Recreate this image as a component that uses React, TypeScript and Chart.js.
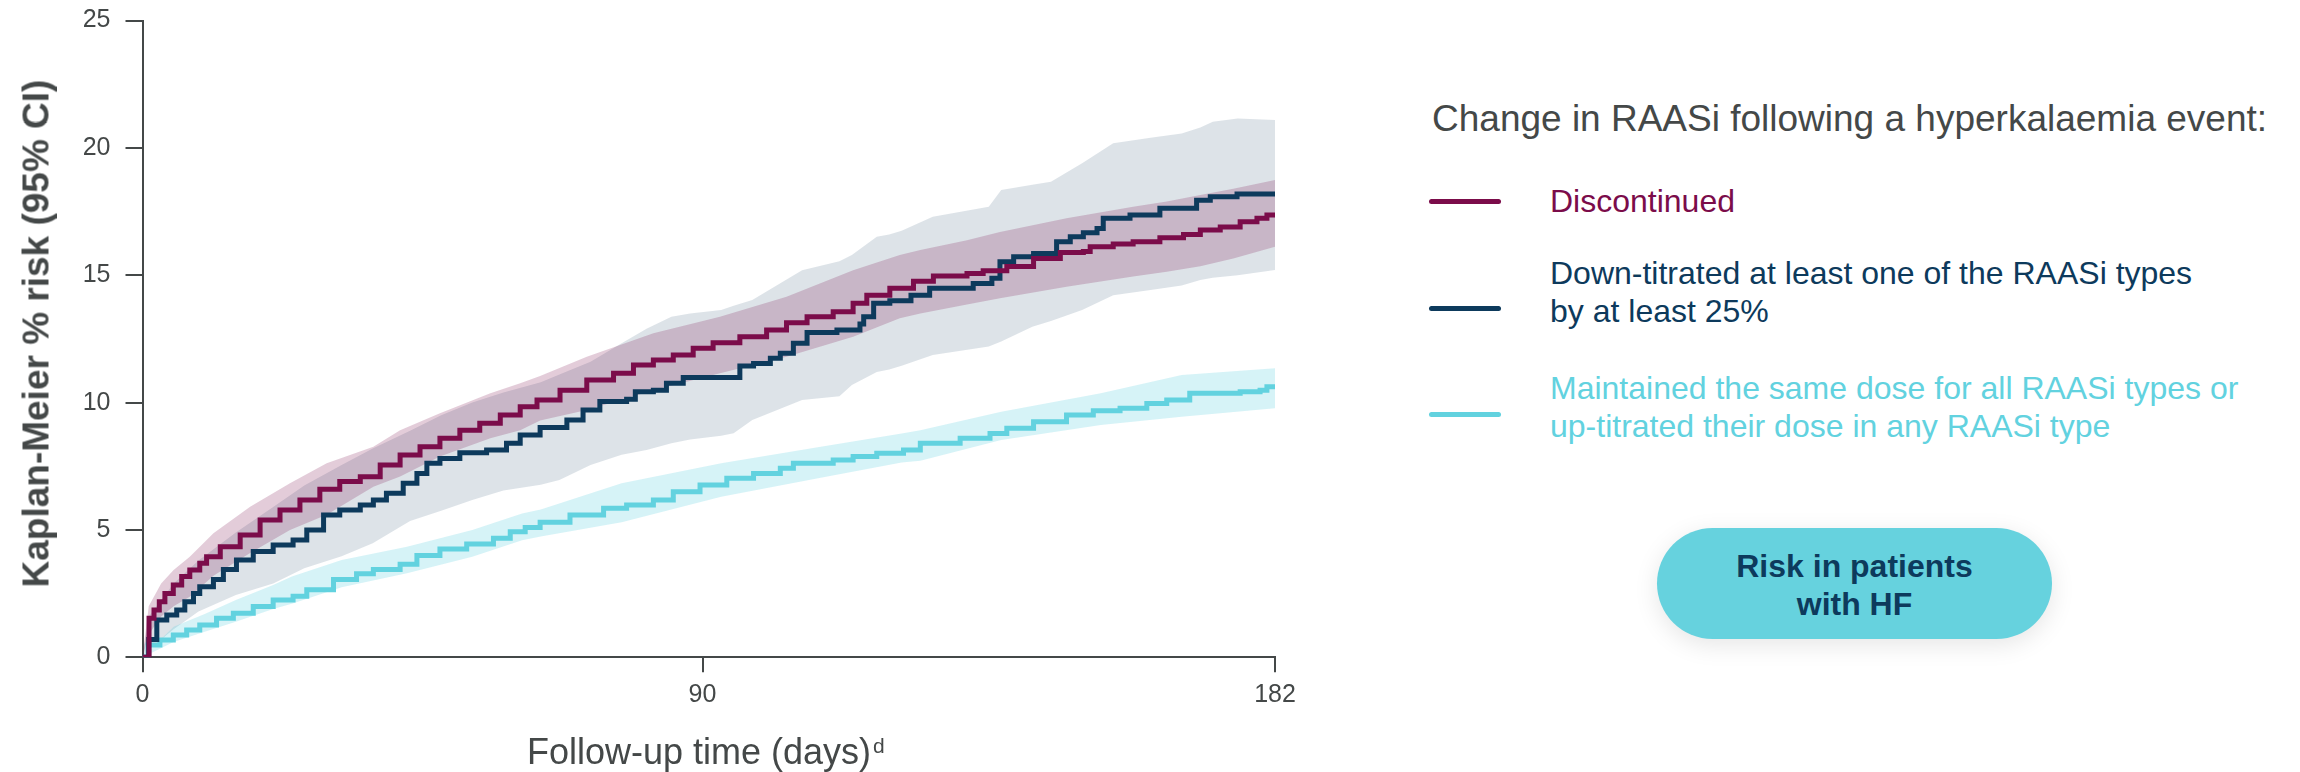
import React, { useEffect, useRef } from "react";
import { Chart, registerables } from "chart.js";

Chart.register(...registerables);

// ---------- DATA ----------
const xTicks = [0, 90, 182];
const yMax = 25;
const yStep = 5;

// Discontinued
const discDays = [0, 1.05, 1.85, 2.7, 3.6, 4.95, 6.3, 7.6, 9.2, 10.3, 12.5, 15.7, 18.9, 22.1, 25.3, 28.5, 31.7, 35.0, 38.2, 41.4, 44.6, 47.8, 51.0, 54.2, 57.5, 60.7, 63.4, 67.1, 71.4, 75.7, 78.9, 82.1, 85.3, 88.5, 91.7, 96.0, 100.3, 103.5, 106.8, 111.0, 114.2, 116.4, 120.1, 123.9, 127.1, 132.5, 135.1, 138.9, 143.2, 147.5, 151.2, 152.3, 156.0, 159.2, 163.5, 167.3, 170.0, 173.2, 176.4, 179.1, 180.7, 182];
const discRisk = [0, 1.53, 1.86, 2.18, 2.51, 2.84, 3.17, 3.43, 3.69, 3.95, 4.34, 4.8, 5.39, 5.78, 6.18, 6.6, 6.9, 7.09, 7.55, 7.94, 8.27, 8.6, 8.92, 9.19, 9.51, 9.84, 10.1, 10.49, 10.89, 11.15, 11.48, 11.67, 11.87, 12.13, 12.35, 12.59, 12.85, 13.14, 13.37, 13.57, 13.9, 14.22, 14.49, 14.77, 14.97, 15.07, 15.18, 15.34, 15.66, 15.89, 15.93, 16.12, 16.23, 16.32, 16.47, 16.6, 16.78, 16.9, 17.1, 17.24, 17.37, 17.4];

// Down-titrated
const downDays = [0, 1.0, 2.3, 3.9, 5.5, 6.8, 8.2, 9.2, 11.4, 13.0, 15.1, 17.8, 21.0, 24.2, 26.4, 29.1, 31.7, 35.0, 37.1, 39.2, 41.9, 44.1, 45.7, 47.8, 51.0, 55.3, 58.5, 60.7, 63.9, 68.2, 70.8, 73.5, 77.8, 79.2, 82.1, 84.2, 86.9, 94.4, 96.0, 98.2, 100.9, 102.5, 104.6, 106.8, 111.6, 115.3, 115.9, 117.5, 120.1, 123.5, 126.5, 133.5, 136.5, 137.8, 140.0, 143.2, 146.9, 149.1, 151.2, 153.4, 154.4, 158.7, 163.5, 169.4, 171.6, 175.9, 182];
const downRisk = [0, 0.7, 1.46, 1.66, 1.86, 2.18, 2.51, 2.77, 3.05, 3.45, 3.82, 4.15, 4.41, 4.61, 5.0, 5.59, 5.78, 5.98, 6.18, 6.44, 6.83, 7.22, 7.62, 7.81, 8.03, 8.14, 8.4, 8.73, 9.02, 9.32, 9.71, 10.04, 10.13, 10.43, 10.49, 10.76, 10.99, 10.99, 11.44, 11.54, 11.74, 11.94, 12.33, 12.75, 12.85, 13.09, 13.37, 13.9, 14.0, 14.22, 14.49, 14.68, 14.88, 15.53, 15.73, 15.86, 16.32, 16.51, 16.67, 16.84, 17.24, 17.37, 17.63, 17.95, 18.08, 18.19, 18.19];

// Maintained / up-titrated
const maintDays = [0, 0.9, 2.8, 4.95, 7.1, 9.2, 11.9, 14.6, 17.8, 21.0, 24.2, 26.4, 30.7, 34.4, 37.1, 41.4, 44.1, 47.8, 52.1, 56.4, 59.1, 61.5, 63.9, 68.7, 74.1, 77.8, 82.1, 85.3, 89.6, 93.9, 98.2, 102.5, 104.6, 111.0, 114.2, 118.0, 122.3, 125.0, 131.4, 136.2, 138.9, 143.2, 148.5, 152.8, 157.1, 161.4, 164.6, 168.3, 176.4, 179.6, 180.7, 182];
const maintRisk = [0, 0.48, 0.68, 0.88, 1.07, 1.27, 1.53, 1.73, 1.99, 2.25, 2.4, 2.65, 3.05, 3.28, 3.45, 3.65, 4.0, 4.25, 4.45, 4.67, 4.93, 5.1, 5.3, 5.59, 5.85, 5.98, 6.18, 6.5, 6.77, 7.03, 7.22, 7.42, 7.62, 7.75, 7.88, 8.01, 8.14, 8.4, 8.6, 8.79, 8.99, 9.25, 9.51, 9.68, 9.78, 9.97, 10.1, 10.37, 10.43, 10.49, 10.62, 10.68];

// 95% CI bands
const discBandDays = [0, 1, 3, 5, 7.6, 11.4, 17.3, 23.7, 29.6, 37.1, 41.4, 47.8, 55.9, 60.7, 63.9, 71.4, 82.1, 92.8, 103.5, 114.2, 121.7, 125, 132.5, 137.8, 148.5, 159.2, 164.6, 170, 175.3, 182];
const discUpper = [0, 2.0, 2.9, 3.43, 3.95, 4.87, 5.91, 6.83, 7.62, 8.27, 8.92, 9.58, 10.37, 10.76, 11.05, 11.8, 12.72, 13.37, 14.16, 15.2, 15.8, 15.99, 16.38, 16.7, 17.24, 17.69, 17.9, 18.15, 18.4, 18.74];
const discLower = [0, 0.9, 1.6, 2.0, 2.38, 3.2, 4.1, 5.0, 5.6, 6.7, 7.1, 7.88, 8.6, 8.92, 9.3, 9.71, 10.49, 11.15, 11.8, 12.59, 13.31, 13.5, 13.85, 14.1, 14.55, 14.95, 15.14, 15.35, 15.66, 16.12];

const downBandDays = [0, 1, 5, 9, 15, 21, 26, 32, 37, 43, 48, 53, 58, 64, 67, 72, 77, 81, 85, 88, 93, 95, 98, 106, 112, 114, 118, 120, 122, 127, 136, 138, 143, 146, 151, 156, 162, 167, 170, 172, 176, 182];
const downUpper = [0, 1.6, 2.9, 3.8, 4.9, 5.9, 6.75, 7.55, 8.2, 8.9, 9.5, 10.0, 10.4, 10.8, 11.1, 11.6, 12.33, 12.9, 13.37, 13.5, 13.64, 13.8, 14.03, 15.2, 15.55, 15.8, 16.51, 16.6, 16.75, 17.3, 17.69, 18.35, 18.55, 18.67, 19.4, 20.18, 20.4, 20.57, 20.8, 21.03, 21.16, 21.1];
const downLower = [0, 0.3, 1.1, 1.8, 2.45, 2.9, 3.5, 3.97, 4.48, 5.35, 5.75, 6.18, 6.55, 6.78, 6.96, 7.55, 7.95, 8.14, 8.4, 8.55, 8.7, 8.8, 9.32, 10.1, 10.25, 10.69, 11.2, 11.3, 11.45, 11.87, 12.2, 12.4, 12.98, 13.2, 13.64, 14.22, 14.42, 14.6, 14.81, 14.9, 15.0, 15.21];

const maintBandDays = [0, 5, 10, 15, 21, 24, 32, 42.5, 53, 61, 64, 77, 93, 109, 122, 125, 138, 154, 167, 182];
const maintUpper = [0, 1.2, 1.7, 2.25, 2.84, 3.17, 3.82, 4.34, 5.0, 5.65, 5.8, 6.83, 7.62, 8.27, 8.79, 8.92, 9.64, 10.37, 11.08, 11.35];
const maintLower = [0, 0.6, 1.0, 1.4, 1.9, 2.1, 2.75, 3.3, 3.95, 4.6, 4.74, 5.3, 6.3, 7.05, 7.65, 7.72, 8.53, 9.12, 9.45, 9.78];

const legendTitle = "Change in RAASi following a hyperkalaemia event:";
const seriesLabels = [
  ["Discontinued"],
  ["Down-titrated at least one of the RAASi types", "by at least 25%"],
  ["Maintained the same dose for all RAASi types or", "up-titrated their dose in any RAASi type"],
];
const yTitle = "Kaplan-Meier % risk (95% CI)";
const xTitle = "Follow-up time (days)";
const xTitleSup = "d";
const buttonLines = ["Risk in patients", "with HF"];

// ---------- STYLE ----------
const FONT = "'Liberation Sans', Arial, Helvetica, sans-serif";
const AXIS = "#444848";
const C_DISC = "#7B0C4A";
const C_DOWN = "#0D3A5C";
const C_MAINT = "#62D2DF";
const seriesColors = [C_DISC, C_DOWN, C_MAINT];

const zip = (xs: number[], ys: number[]) => xs.map((x, i) => ({ x, y: ys[i] }));

function KMChart() {
  const ref = useRef<HTMLCanvasElement | null>(null);
  useEffect(() => {
    if (!ref.current) return;
    Chart.defaults.font.family = FONT;
    const band = (data: any[], order: number, fill: any, bg: string) => ({
      data,
      order,
      fill,
      backgroundColor: bg,
      borderWidth: 0,
      borderColor: "rgba(0,0,0,0)",
      pointRadius: 0,
      tension: 0,
    });
    const line = (data: any[], order: number, color: string) => ({
      data,
      order,
      fill: false,
      borderColor: color,
      backgroundColor: color,
      borderWidth: 5,
      pointRadius: 0,
      stepped: "before" as const,
      borderCapStyle: "butt" as const,
      borderJoinStyle: "miter" as const,
    });
    const chart = new Chart(ref.current, {
      type: "line",
      data: {
        datasets: [
          band(zip(downBandDays, downLower), 9, false, "rgba(0,0,0,0)"),
          band(zip(downBandDays, downUpper), 8, "-1", "rgba(13,58,92,0.14)"),
          band(zip(discBandDays, discLower), 7, false, "rgba(0,0,0,0)"),
          band(zip(discBandDays, discUpper), 6, "-1", "rgba(123,12,74,0.21)"),
          band(zip(maintBandDays, maintLower), 5, false, "rgba(0,0,0,0)"),
          band(zip(maintBandDays, maintUpper), 4, "-1", "rgba(98,210,223,0.26)"),
          line(zip(maintDays, maintRisk), 3, C_MAINT),
          line(zip(downDays, downRisk), 2, C_DOWN),
          line(zip(discDays, discRisk), 1, C_DISC),
        ] as any,
      },
      options: {
        animation: false,
        responsive: false,
        maintainAspectRatio: false,
        devicePixelRatio: 1,
        layout: { padding: { top: 20.6, right: 25, left: 0, bottom: 0 } },
        plugins: { legend: { display: false }, tooltip: { enabled: false }, title: { display: false } },
        elements: { point: { radius: 0 } },
        scales: {
          x: {
            type: "linear",
            min: 0,
            max: 182,
            afterBuildTicks: (s: any) => {
              s.ticks = xTicks.map((v) => ({ value: v }));
            },
            afterFit: (s: any) => {
              s.height = 772 - 657.3;
              s.paddingLeft = 0;
              s.paddingRight = 0;
            },
            grid: { display: true, drawOnChartArea: false, drawTicks: true, tickLength: 15, color: AXIS, lineWidth: 2 },
            border: { display: true, color: AXIS, width: 2 },
            ticks: { color: AXIS, font: { size: 25 }, padding: 8, maxRotation: 0, autoSkip: false },
          },
          y: {
            type: "linear",
            min: 0,
            max: yMax,
            afterFit: (s: any) => {
              s.width = 142.5;
              s.paddingTop = 0;
              s.paddingBottom = 0;
            },
            grid: { display: true, drawOnChartArea: false, drawTicks: true, tickLength: 17, color: AXIS, lineWidth: 2 },
            border: { display: true, color: AXIS, width: 2 },
            ticks: { color: AXIS, font: { size: 25 }, padding: 15, stepSize: yStep },
          },
        },
      } as any,
    });
    return () => chart.destroy();
  }, []);
  return <canvas ref={ref} width={1300} height={772} style={{ position: "absolute", left: 0, top: 0, width: 1300, height: 772 }} />;
}

export default function App() {
  const markerY = [201, 308, 414];
  const textTop = [183.4, 255.2, 370.2];
  return (
    <div style={{ position: "absolute", left: 0, top: 0, width: 2300, height: 772, background: "#fff", fontFamily: FONT, overflow: "hidden" }}>
      <KMChart />
      {/* Y-axis title */}
      <div
        style={{
          position: "absolute",
          left: 35.5 - 300,
          top: 333.5 - 18.5,
          width: 600,
          height: 37,
          lineHeight: "37px",
          fontSize: 37,
          fontWeight: 700,
          color: AXIS,
          textAlign: "center",
          whiteSpace: "nowrap",
          transform: "rotate(-90deg)",
          transformOrigin: "50% 50%",
        }}
      >
        {yTitle}
      </div>
      {/* X-axis title */}
      <div style={{ position: "absolute", left: 527, top: 733.5, fontSize: 36, lineHeight: "36px", color: AXIS, whiteSpace: "nowrap" }}>
        {xTitle}
        <span style={{ fontSize: 21, position: "relative", top: -11, marginLeft: 2 }}>{xTitleSup}</span>
      </div>
      {/* Legend */}
      <div style={{ position: "absolute", left: 1432, top: 99.7, fontSize: 37, lineHeight: "37px", color: AXIS, whiteSpace: "nowrap" }}>
        {legendTitle}
      </div>
      {seriesLabels.map((lines, i) => (
        <React.Fragment key={i}>
          <div
            style={{
              position: "absolute",
              left: 1429,
              top: markerY[i] - 2.5,
              width: 72,
              height: 5,
              borderRadius: 2.5,
              background: seriesColors[i],
            }}
          />
          <div style={{ position: "absolute", left: 1550, top: textTop[i], fontSize: 32, lineHeight: "37.5px", color: seriesColors[i], whiteSpace: "nowrap" }}>
            {lines.map((l, j) => (
              <div key={j}>{l}</div>
            ))}
          </div>
        </React.Fragment>
      ))}
      {/* Button */}
      <div
        style={{
          position: "absolute",
          left: 1657,
          top: 528,
          width: 395,
          height: 111,
          borderRadius: 55.5,
          background: "#66D2DE",
          boxShadow: "0 6px 24px rgba(0,0,0,0.10)",
          display: "flex",
          flexDirection: "column",
          alignItems: "center",
          justifyContent: "center",
          paddingTop: 2,
          boxSizing: "border-box",
          color: C_DOWN,
          fontWeight: 700,
          fontSize: 32,
          lineHeight: "38px",
          textAlign: "center",
        }}
      >
        {buttonLines.map((l, j) => (
          <div key={j}>{l}</div>
        ))}
      </div>
    </div>
  );
}
